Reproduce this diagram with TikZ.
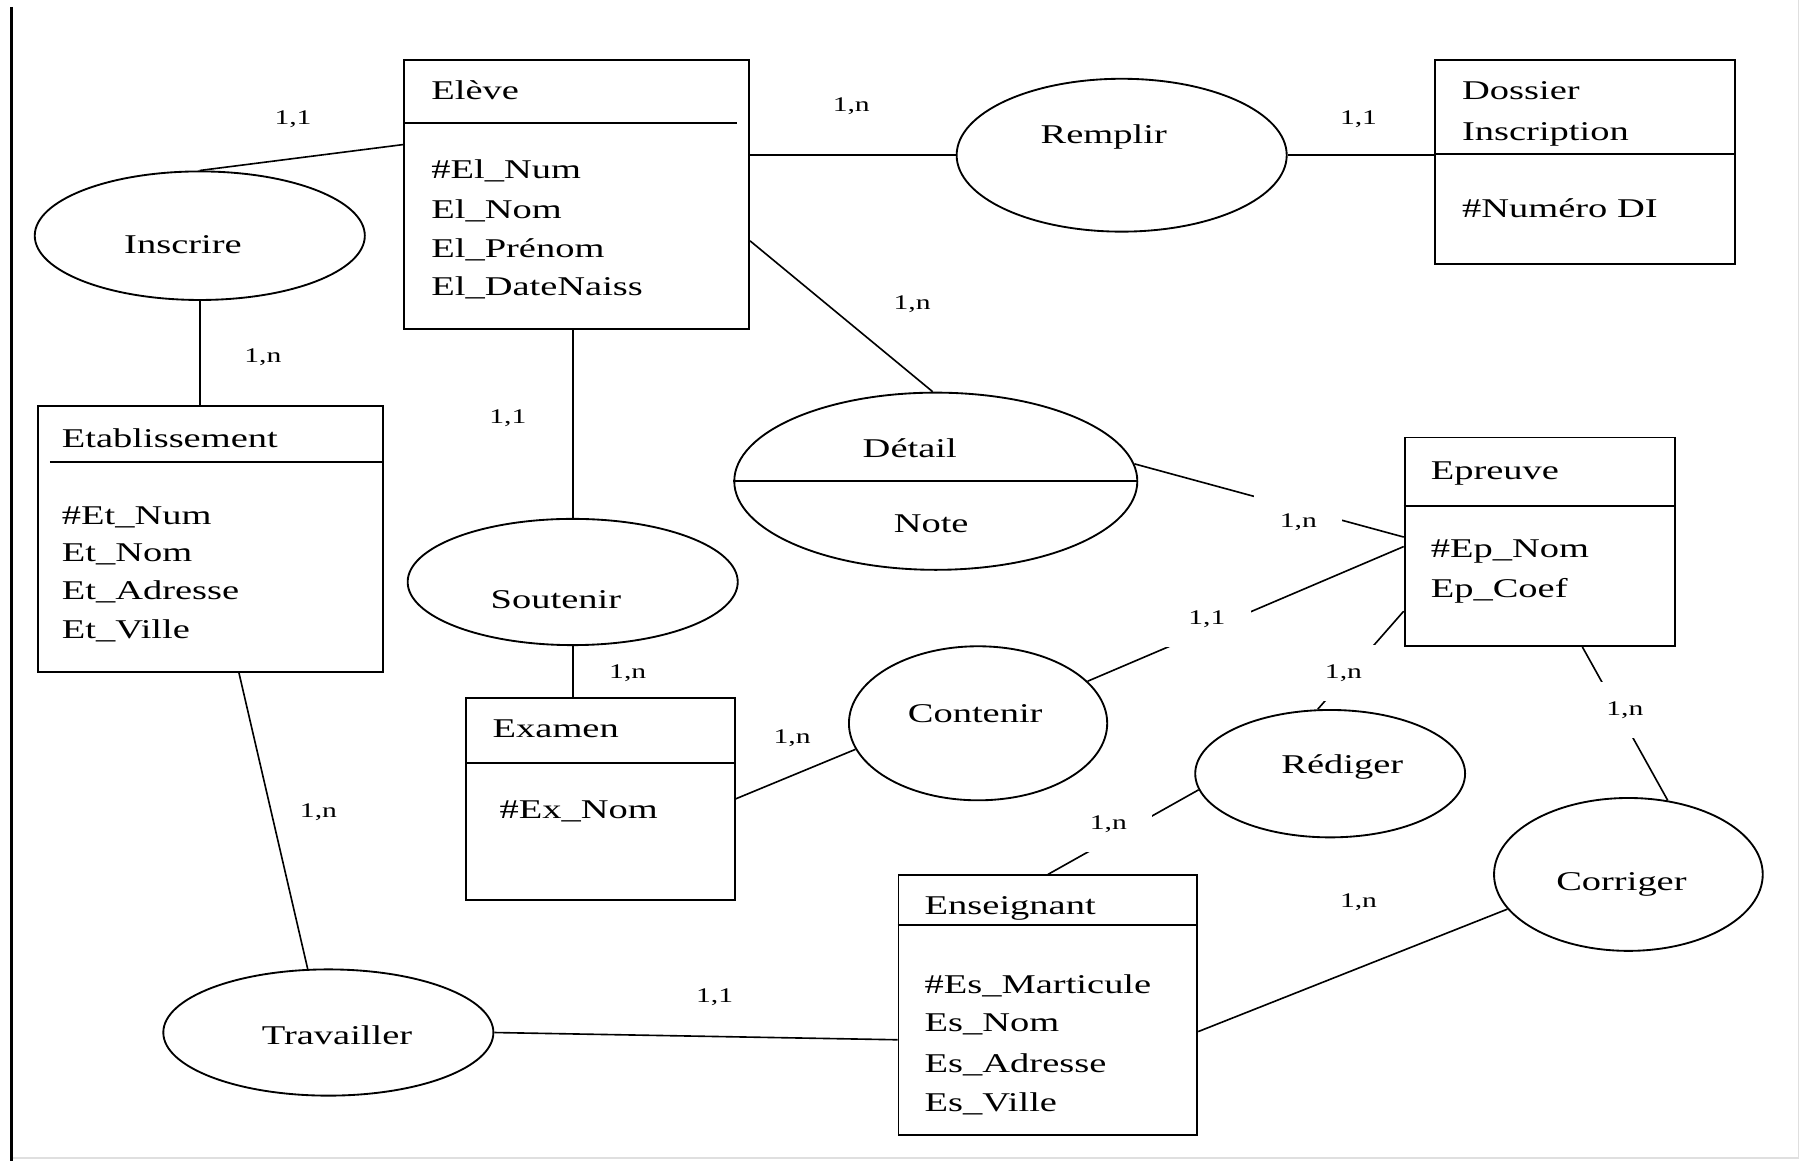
\documentclass[tikz,border=0pt]{standalone}
\usepackage{fontspec}
\setmainfont{Liberation Serif}[FakeStretch=1.42]
\usetikzlibrary{shapes.geometric,calc}
\begin{document}
\begin{tikzpicture}[x=0.5pt,y=-0.5pt,
  ent/.style={draw, line width=0.8pt, rectangle, inner sep=0pt, anchor=north west},
  rel/.style={draw, line width=0.8pt, ellipse, inner sep=0pt},
  conn/.style={line width=0.7pt},
  div/.style={line width=0.8pt},
  txt/.style={inner sep=0pt, anchor=base west, font=\fontsize{11.7}{14}\selectfont},
  ctxt/.style={inner sep=0pt, anchor=base, font=\fontsize{11.7}{14}\selectfont},
  card/.style={inner sep=0pt, font=\fontsize{9}{10}\selectfont},
  gaplab/.style={card, fill=white, minimum width=38pt, minimum height=24pt}
]
\useasboundingbox (0,0) rectangle (1568,1008);
% frame
\draw[gray!25, line width=0.6pt] (10,1000) -- (1553,1000) -- (1553,0);
\draw[line width=1.3pt] (10,6) -- (10,1002);

% entities
\node[ent, minimum width=149pt, minimum height=116pt] (eleve) at (348,51) {};
\draw[div] (348,106) -- (636,106);
\node[txt] (eleveT) at (372,86) {Elève};
\node[txt] (eleveA1) at (372,153.7) {\#El\_Num};
\node[txt] (eleveA2) at (372,188.5) {El\_Nom};
\node[txt] (eleveA3) at (372,222) {El\_Prénom};
\node[txt] (eleveA4) at (372,255) {El\_DateNaiss};

\node[ent, minimum width=129.5pt, minimum height=88pt] (dossier) at (1238,51) {};
\draw[div] (1238,133) -- (1497,133);
\node[txt] (dossierT1) at (1262,86) {Dossier};
\node[txt] (dossierT2) at (1262,121) {Inscription};
\node[txt] (dossierA1) at (1262,188) {\#Numéro DI};

\node[ent, minimum width=149pt, minimum height=114.75pt] (etab) at (32,350) {};
\draw[div] (43,399) -- (330,399);
\node[txt] (etabT) at (53,386) {Etablissement};
\node[txt] (etabA1) at (53,452.5) {\#Et\_Num};
\node[txt] (etabA2) at (53,485) {Et\_Nom};
\node[txt] (etabA3) at (53,518) {Et\_Adresse};
\node[txt] (etabA4) at (53,551) {Et\_Ville};

\node[ent, minimum width=116.8pt, minimum height=90pt] (epreuve) at (1212,377) {};
\draw[div] (1212,437) -- (1445.6,437);
\node[txt] (epreuveT) at (1235,413.6) {Epreuve};
\node[txt] (epreuveA1) at (1235,481) {\#Ep\_Nom};
\node[txt] (epreuveA2) at (1235,515.5) {Ep\_Coef};

\node[ent, minimum width=116pt, minimum height=87pt] (examen) at (401.5,602) {};
\draw[div] (401.5,659) -- (633.5,659);
\node[txt] (examenT) at (425,636.6) {Examen};
\node[txt] (examenA1) at (431,707) {\#Ex\_Nom};

\node[ent, minimum width=129pt, minimum height=112pt] (enseignant) at (775,755) {};
\draw[div] (775,799) -- (1033,799);
\node[txt] (enseignantT) at (798,790) {Enseignant};
\node[txt] (enseignantA1) at (798,857.6) {\#Es\_Marticule};
\node[txt] (enseignantA2) at (798,891) {Es\_Nom};
\node[txt] (enseignantA3) at (798,925.6) {Es\_Adresse};
\node[txt] (enseignantA4) at (798,959.5) {Es\_Ville};

% relations
\node[rel, minimum width=142.5pt, minimum height=55.5pt] (inscrire) at (172.5,203.5) {};
\node[ctxt] (inscrireT) at (158,219) {Inscrire};
\node[rel, minimum width=142.5pt, minimum height=66pt] (remplir) at (968.5,134) {};
\node[ctxt] (remplirT) at (953,124) {Remplir};
\node[rel, minimum width=174pt, minimum height=76.5pt] (detail) at (808,415.5) {};
\draw[div] (detail.west) -- (detail.east);
\node[ctxt] (detailT) at (785.5,395) {Détail};
\node[ctxt] (noteT) at (804,460) {Note};
\node[rel, minimum width=142.5pt, minimum height=54.5pt] (soutenir) at (494.5,502.5) {};
\node[ctxt] (soutenirT) at (480,525) {Soutenir};
\node[rel, minimum width=111.5pt, minimum height=66.5pt] (contenir) at (844.5,624.5) {};
\node[ctxt] (contenirT) at (842,624) {Contenir};
\node[rel, minimum width=116.5pt, minimum height=55pt] (rediger) at (1148.5,668) {};
\node[ctxt] (redigerT) at (1159,667.5) {Rédiger};
\node[rel, minimum width=116pt, minimum height=66pt] (corriger) at (1406,755) {};
\node[ctxt] (corrigerT) at (1400,768.6) {Corriger};
\node[rel, minimum width=142.5pt, minimum height=54.5pt] (travailler) at (283.5,891.5) {};
\node[ctxt] (travaillerT) at (291,902) {Travailler};

% connectors
\draw[conn] (inscrire.north) -- (eleve.164);
\draw[conn] (inscrire.south) -- (inscrire.south |- etab.north);
\draw[conn] (eleve.east |- remplir.west) -- (remplir.west);
\draw[conn] (remplir.east) -- (remplir.east -| dossier.west);
\draw[conn] (eleve.-15.6) -- (detail.92);
\draw[conn] (soutenir.north) -- (soutenir.north |- eleve.south);
\draw[conn] (soutenir.south) -- (soutenir.south |- examen.north);
\draw[conn] (detail.5.3) -- (epreuve.178);
\draw[conn] (contenir.21.7) -- (epreuve.182);
\draw[conn] (examen.east) -- (contenir.192.5);
\draw[conn] (rediger.101) -- (epreuve.207);
\draw[conn] (enseignant.north) -- (rediger.187);
\draw[conn] (epreuve.-68.2) -- (corriger.62.5);
\draw[conn] (enseignant.-10.8) -- (corriger.196.6);
\draw[conn] (etab.-78.1) -- (travailler.108.4);
\draw[conn] (travailler.east) -- (enseignant.193.8);

% cardinalities
\node[card] (c1) at (253,103) {1,1};
\node[card] (c2) at (227,308) {1,n};
\node[card] (c3) at (735,92) {1,n};
\node[card] (c4) at (1173,103) {1,1};
\node[card] (c5) at (787.6,263) {1,n};
\node[card] (c6) at (438.5,361) {1,1};
\node[card] (c7) at (542,581) {1,n};
\node[gaplab] (c8) at (1121,451) {1,n};
\node[gaplab] (c9) at (1042,535) {1,1};
\node[card] (c10) at (684,637) {1,n};
\node[gaplab] (c11) at (1160,581) {1,n};
\node[gaplab] (c12) at (957,712) {1,n};
\node[gaplab] (c13) at (1403,613) {1,n};
\node[card] (c14) at (1173,779) {1,n};
\node[card] (c15) at (275,701) {1,n};
\node[card] (c16) at (617,861) {1,1};
\end{tikzpicture}
\end{document}
